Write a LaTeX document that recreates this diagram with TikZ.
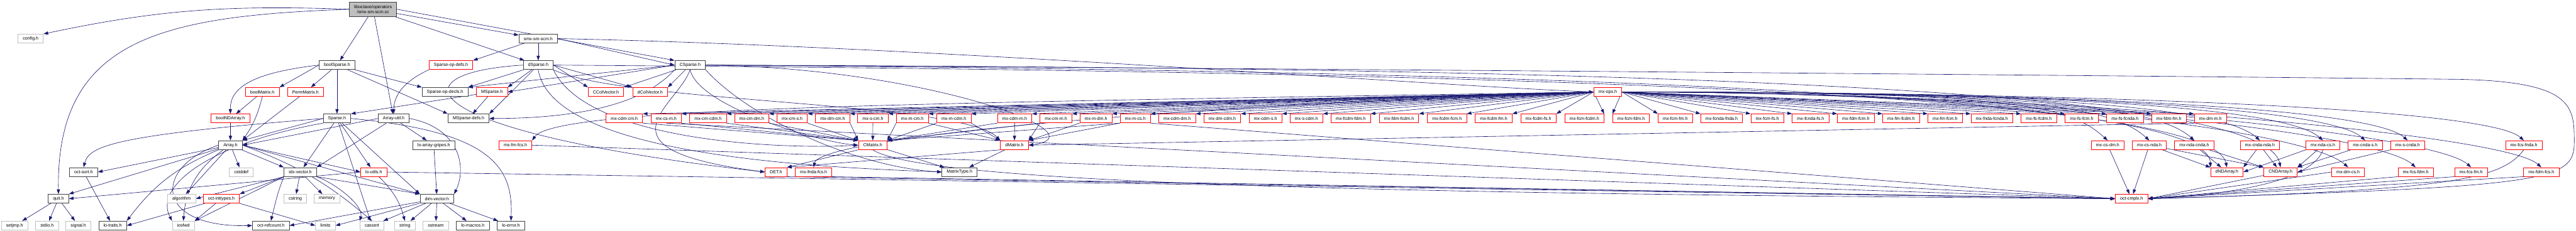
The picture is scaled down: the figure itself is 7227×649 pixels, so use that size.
\documentclass[tikz,border=0pt]{standalone}
\usepackage{fontspec}
\setmainfont{Liberation Sans}
\usetikzlibrary{arrows.meta,backgrounds}
\definecolor{edgeblue}{HTML}{191970}
\definecolor{sysgray}{HTML}{BFBFBF}
\definecolor{truncred}{HTML}{FF0000}

\tikzset{
  hfile/.style={draw=black!75, line width=1.3pt, fill=white, minimum height=25pt,
    inner xsep=13.5pt, inner ysep=0pt, font=\fontsize{12.5}{15}\selectfont},
  sysfile/.style={hfile, draw=sysgray},
  truncfile/.style={hfile, draw=truncred},
  rootfile/.style={hfile, fill=sysgray, align=center, minimum height=40pt},
  dep/.style={draw=edgeblue, line width=1.1pt, -{Triangle[length=13pt,width=9pt]}}
}

\begin{document}
\begin{tikzpicture}[x=1pt,y=-1pt]
  \useasboundingbox (0,0) rectangle (7227,649);

  % rows 0-3
  \node[rootfile] (top) at (1046.5,26) {liboctave/operators\\/smx-sm-scm.cc};
  \node[sysfile] (config) at (86,108.5) {config.h};
  \node[hfile] (smxh) at (1510,108.5) {smx-sm-scm.h};
  \node[hfile] (boolSparse) at (945.5,183) {boolSparse.h};
  \node[truncfile] (opDefs) at (1265,183) {Sparse-op-defs.h};
  \node[hfile] (dSparse) at (1510,183) {dSparse.h};
  \node[hfile] (CSparse) at (1936,183) {CSparse.h};
  \node[truncfile] (boolMatrix) at (736,258.5) {boolMatrix.h};
  \node[truncfile] (PermMatrix) at (857,258.5) {PermMatrix.h};
  \node[hfile] (opDecls) at (1248.5,258.5) {Sparse-op-decls.h};
  \node[truncfile] (MSparse) at (1380,258.5) {MSparse.h};
  \node[truncfile] (CColVector) at (1700,258.5) {CColVector.h};
  \node[truncfile] (dColVector) at (1824,258.5) {dColVector.h};
  \node[truncfile] (mxops) at (4510.5,258.5) {mx-ops.h};

  % row 4
  \node[truncfile] (boolNDArray) at (646.5,333) {boolNDArray.h};
  \node[hfile] (Sparse) at (945.5,333) {Sparse.h};
  \node[hfile] (ArrayUtil) at (1104.5,333) {Array-util.h};
  \node[hfile] (MSparseDefs) at (1314.5,333) {MSparse-defs.h};
  \foreach \n/\x in {cdm-cm/1751.5, cs-m/1869, cm-cdm/1986.5, cm-dm/2109, cm-s/2222.5,
      dm-cm/2336, s-cm/2449, m-cm/2559.5, m-cdm/2676, cdm-m/2846.5, cm-m/2962.5,
      m-dm/3074.5, m-cs/3185, cdm-dm/3302.5, dm-cdm/3429, cdm-s/3550, s-cdm/3665,
      fcdm-fdm/3789.5, fdm-fcdm/3925, fcdm-fcm/4059.5, fcdm-fm/4190.5, fcdm-fs/4316,
      fcm-fcdm/4445, fcm-fdm/4576, fcm-fm/4700, fcnda-fnda/4830, fcm-fs/4958,
      fcnda-fs/5079.5, fdm-fcm/5206.5, fm-fcdm/5333.5, fm-fcm/5457, fnda-fcnda/5588,
      fs-fcdm/5720, fs-fcm/5840, fs-fcnda/5961.5, fdm-fm/6085, dm-m/6201}
    \node[truncfile] (mx-\n) at (\x,333) {mx-\n.h};

  % row 5
  \node[hfile] (Array) at (646.5,408) {Array.h};
  \node[hfile] (gripes) at (1217,408) {lo-array-gripes.h};
  \node[truncfile] (mxfmfcs) at (1446,408) {mx-fm-fcs.h};
  \node[truncfile] (CMatrix) at (2448.5,408) {CMatrix.h};
  \node[truncfile] (dMatrix) at (2846,408) {dMatrix.h};
  \foreach \n/\x in {cs-dm/5913, cs-nda/6030, nda-cnda/6156, cnda-nda/6340,
      nda-cs/6517, cnda-s/6635.5, s-cnda/6754.5, fcs-fnda/7080.5}
    \node[truncfile] (mx-\n) at (\x,408) {mx-\n.h};

  % row 6
  \node[hfile] (octsort) at (234.5,483.5) {oct-sort.h};
  \node[sysfile] (cstddef) at (677,483.5) {cstddef};
  \node[hfile] (idxvector) at (842.5,483.5) {idx-vector.h};
  \node[truncfile] (loutils) at (1048.5,483.5) {lo-utils.h};
  \node[truncfile] (DET) at (2177,483.5) {DET.h};
  \node[truncfile] (mxfndafcs) at (2282.5,483.5) {mx-fnda-fcs.h};
  \node[hfile] (MatrixType) at (2692,483.5) {MatrixType.h};
  \node[truncfile] (dNDArray) at (6247.5,483.5) {dNDArray.h};
  \node[truncfile] (CNDArray) at (6398,483.5) {CNDArray.h};
  \foreach \n/\x in {dm-cs/6587.5, fcs-fdm/6777, fcs-fm/6932.5, fdm-fcs/7129.5}
    \node[truncfile] (mx-\n) at (\x,483.5) {mx-\n.h};

  % row 7
  \node[hfile] (quit) at (164,558.5) {quit.h};
  \node[sysfile] (algorithm) at (509.5,558.5) {algorithm};
  \node[truncfile] (octinttypes) at (621,558.5) {oct-inttypes.h};
  \node[sysfile] (cstring) at (828.5,558.5) {cstring};
  \node[sysfile] (memory) at (917.5,558.5) {memory};
  \node[hfile] (dimvector) at (1226,558.5) {dim-vector.h};
  \node[truncfile] (octcmplx) at (5980,558.5) {oct-cmplx.h};

  % row 8
  \node[sysfile] (setjmp) at (41,634) {setjmp.h};
  \node[sysfile] (stdio) at (132,634) {stdio.h};
  \node[sysfile] (signal) at (220,634) {signal.h};
  \node[hfile] (lotraits) at (316,634) {lo-traits.h};
  \node[sysfile] (iosfwd) at (514.5,634) {iosfwd};
  \node[hfile] (octrefcount) at (760,634) {oct-refcount.h};
  \node[sysfile] (limits) at (913,634) {limits};
  \node[sysfile] (cassert) at (1043.5,634) {cassert};
  \node[sysfile] (string) at (1136,634) {string};
  \node[sysfile] (sstream) at (1222.5,634) {sstream};
  \node[hfile] (lomacros) at (1326.5,634) {lo-macros.h};
  \node[hfile] (loerror) at (1433.5,634) {lo-error.h};

  \begin{scope}[on background layer]
  % root file
  \draw[dep] (top.west) to[out=178,in=12] (config.north east);
  \draw[dep] (top.west) .. controls (450,45) and (158,110) .. (quit.north);
  \draw[dep] (top) -- (boolSparse);
  \draw[dep] (top) -- (ArrayUtil);
  \draw[dep] (top) -- (dSparse);
  \draw[dep] (top) -- (smxh);
  \draw[dep] (top.east) -- (CSparse.north west);

  % smx-sm-scm.h
  \draw[dep] (smxh) -- (opDefs.north east);
  \draw[dep] (smxh) -- (dSparse);
  \draw[dep] (smxh.east) -- (CSparse.west);
  \draw[dep] (smxh.east) .. controls (2600,130) and (4000,240) .. (mxops.west);

  % sparse headers
  \draw[dep] (boolSparse) -- (Sparse);
  \draw[dep] (boolSparse) -- (PermMatrix);
  \draw[dep] (boolSparse) -- (opDecls.north west);
  \draw[dep] (boolSparse) -- (MSparseDefs.north west);
  \draw[dep] (boolSparse.west) -- (boolMatrix.north east);
  \draw[dep] (boolSparse.west) .. controls (700,205) and (645,250) .. (boolNDArray.north);
  \draw[dep] (opDefs.south west) .. controls (1130,230) and (1105,270) .. (ArrayUtil.north);
  \draw[dep] (dSparse) -- (opDecls.north east);
  \draw[dep] (dSparse) -- (MSparse.north east);
  \draw[dep] (dSparse) -- (MSparseDefs.north east);
  \draw[dep] (dSparse.east) -- (CColVector.north west);
  \draw[dep] (dSparse.east) -- (dColVector.north west);
  \draw[dep] (dSparse.west) .. controls (1100,205) and (1150,370) .. (DET.west);
  \draw[dep] (dSparse.south east) .. controls (1750,290) and (2700,285) .. (dMatrix.north west);
  \draw[dep] (dSparse.south east) .. controls (1650,400) and (2200,420) .. (CMatrix.west);
  \draw[dep] (dSparse.south) .. controls (1550,440) and (2300,470) .. (MatrixType.west);
  \draw[dep] (dSparse.east) .. controls (4000,200) and (6200,250) .. (dNDArray.north);
  \draw[dep] (CSparse.west) -- (opDecls.north east);
  \draw[dep] (CSparse.west) -- (MSparse.east);
  \draw[dep] (CSparse.south west) .. controls (1800,300) and (1600,333) .. (MSparseDefs.east);
  \draw[dep] (CSparse) -- (CColVector.north east);
  \draw[dep] (CSparse) -- (dColVector.north east);
  \draw[dep] (CSparse.south) .. controls (1900,300) and (1650,420) .. (DET.west);
  \draw[dep] (CSparse.south) .. controls (1960,300) and (2300,400) .. (CMatrix.west);
  \draw[dep] (CSparse.east) .. controls (2600,190) and (3100,380) .. (dMatrix.east);
  \draw[dep] (CSparse.south east) .. controls (2100,330) and (2400,470) .. (MatrixType.west);
  \draw[dep] (CSparse.east) .. controls (4300,200) and (6200,260) .. (dNDArray.north west);
  \draw[dep] (CSparse.east) .. controls (4500,190) and (6350,240) .. (CNDArray.north);
  \draw[dep] (CSparse.east) .. controls (4000,195) and (6200,215) .. (6900,223)
    .. controls (7222,230) and (7222,300) .. (7222,400)
    .. controls (7222,510) and (7150,525) .. (octcmplx.east);
  \draw[dep] (MSparse) -- (Sparse.north east);
  \draw[dep] (MSparse) -- (MSparseDefs);
  \draw[dep] (PermMatrix) -- (Array.north east);
  \draw[dep] (boolMatrix) -- (boolNDArray);
  \draw[dep] (boolMatrix.south) to[bend left=10] (Array.north east);
  \draw[dep] (boolNDArray) -- (Array);

  % Array-util.h and Sparse.h
  \draw[dep] (ArrayUtil.west) -- (Array.east);
  \draw[dep] (ArrayUtil) -- (idxvector.north east);
  \draw[dep] (ArrayUtil) -- (gripes);
  \draw[dep] (ArrayUtil.east) .. controls (1290,360) and (1310,470) .. (dimvector.north east);
  \draw[dep] (Sparse.west) -- (Array.north east);
  \draw[dep] (Sparse.west) .. controls (320,380) and (250,410) .. (octsort.north);
  \draw[dep] (Sparse.south west) .. controls (600,400) and (430,520) .. (iosfwd.north west);
  \draw[dep] (Sparse) -- (idxvector);
  \draw[dep] (Sparse) -- (loutils);
  \draw[dep] (Sparse) -- (cassert);
  \draw[dep] (Sparse) -- (dimvector.north west);
  \draw[dep] (Sparse.east) .. controls (1380,370) and (1440,470) .. (loerror.north);
  \draw[dep] (gripes) -- (dimvector);

  % Array.h
  \draw[dep] (Array) -- (octsort.east);
  \draw[dep] (Array) -- (quit.north east);
  \draw[dep] (Array) to[bend right=15] (lotraits.north east);
  \draw[dep] (Array) to[bend right=25] (iosfwd.north);
  \draw[dep] (Array.west) .. controls (430,470) and (430,640) .. (octrefcount.west);
  \draw[dep] (Array) -- (algorithm);
  \draw[dep] (Array) -- (cstddef);
  \draw[dep] (Array) -- (idxvector.north west);
  \draw[dep] (Array.east) -- (dimvector.north west);
  \draw[dep] (Array.east) -- (loutils.west);
  \draw[dep] (Array.east) to[bend left=10] (cassert.north);

  % low level headers
  \draw[dep] (octsort) -- (lotraits);
  \draw[dep] (quit) -- (setjmp);
  \draw[dep] (quit) -- (stdio);
  \draw[dep] (quit) -- (signal);
  \draw[dep] (idxvector) -- (cstring);
  \draw[dep] (idxvector) -- (memory);
  \draw[dep] (idxvector.south west) -- (algorithm.east);
  \draw[dep] (idxvector.south west) -- (octinttypes.north east);
  \draw[dep] (idxvector.south west) -- (iosfwd.north east);
  \draw[dep] (idxvector.south west) .. controls (780,540) .. (octrefcount.north);
  \draw[dep] (idxvector.south east) -- (dimvector.north west);
  \draw[dep] (idxvector.south east) .. controls (950,520) and (1020,580) .. (cassert.north west);
  \draw[dep] (octinttypes) -- (lotraits.east);
  \draw[dep] (octinttypes) -- (iosfwd.north east);
  \draw[dep] (octinttypes.south east) -- (limits.west);
  \draw[dep] (dimvector) -- (octrefcount.east);
  \draw[dep] (dimvector) -- (limits.east);
  \draw[dep] (dimvector) -- (cassert);
  \draw[dep] (dimvector) -- (string);
  \draw[dep] (dimvector) -- (sstream);
  \draw[dep] (dimvector) -- (lomacros);
  \draw[dep] (dimvector) -- (loerror);
  \draw[dep] (loutils.west) -- (quit.east);
  \draw[dep] (loutils) to[bend left=15] (string.north);
  \draw[dep] (loutils.east) -- (octcmplx.west);

  % matrix headers
  \draw[dep] (mxfmfcs.east) -- (octcmplx.west);
  \draw[dep] (CMatrix) -- (MatrixType);
  \draw[dep] (CMatrix.south west) -- (DET.north east);
  \draw[dep] (CMatrix.south) .. controls (2600,520) and (4000,545) .. (octcmplx.west);
  \draw[dep] (dMatrix) -- (MatrixType);
  \draw[dep] (dMatrix.south west) -- (DET.north east);
  \draw[dep] (DET.south east) -- (octcmplx.west);
  \draw[dep] (mxfndafcs.south east) -- (octcmplx.west);
  \draw[dep] (CNDArray) -- (octcmplx.east);

  % mx-ops.h
  \foreach \n in {cdm-cm, cs-m, cm-cdm, cm-dm, cm-s, dm-cm, s-cm, m-cm, m-cdm, cdm-m,
      cm-m, m-dm, m-cs, cdm-dm, dm-cdm, cdm-s, s-cdm, fcdm-fdm, fdm-fcdm, fcdm-fcm,
      fcdm-fm, fcdm-fs, fcm-fcdm}
    \draw[dep] (mxops.west) -- (mx-\n.north east);
  \foreach \n in {fcm-fdm, fcm-fm, fcnda-fnda, fcm-fs, fcnda-fs, fdm-fcm, fm-fcdm,
      fm-fcm, fnda-fcnda, fs-fcdm, fs-fcm, fs-fcnda, fdm-fm, dm-m}
    \draw[dep] (mxops.east) -- (mx-\n.north west);
  \foreach \n in {cs-dm, cs-nda, nda-cnda, cnda-nda, nda-cs, cnda-s, s-cnda, fcs-fnda,
      dm-cs, fcs-fdm, fcs-fm, fdm-fcs}
    \draw[dep] (mxops.east) .. controls +(1100,0) and +(-110,-100) .. (mx-\n.north);
  \draw[dep] (mxops.west) .. controls (2600,290) and (1560,300) .. (mxfmfcs.north east);
  \draw[dep] (mxops.west) .. controls (3200,300) and (2300,390) .. (mxfndafcs.north);

  % mx headers
  \foreach \n in {cdm-cm, cs-m, cm-cdm, cm-dm, cm-s, dm-cm}
    \draw[dep] (mx-\n.south east) -- (CMatrix.north west);
  \draw[dep] (mx-s-cm) -- (CMatrix);
  \foreach \n in {m-cm, m-cdm, cdm-m, cm-m, m-cs}
    \draw[dep] (mx-\n.south west) -- (CMatrix.north east);
  \foreach \n in {m-cm, m-cdm}
    \draw[dep] (mx-\n.south east) -- (dMatrix.north west);
  \draw[dep] (mx-cdm-m) -- (dMatrix);
  \foreach \n in {cm-m, m-dm, m-cs}
    \draw[dep] (mx-\n.south west) -- (dMatrix.north east);
  \draw[dep] (mx-dm-m.south west) -- (dMatrix.east);
  \draw[dep] (mx-cs-m.south) -- (octcmplx.west);
  \draw[dep] (mx-m-cs.south east) -- (octcmplx.west);
  \draw[dep] (mx-cs-dm) -- (octcmplx);
  \draw[dep] (mx-cs-nda) -- (octcmplx);
  \draw[dep] (mx-cs-nda) -- (dNDArray.north west);
  \draw[dep] (mx-cs-nda) -- (CNDArray.north west);
  \draw[dep] (mx-nda-cnda) -- (dNDArray);
  \draw[dep] (mx-nda-cnda) -- (CNDArray.north west);
  \draw[dep] (mx-cnda-nda) -- (dNDArray.north east);
  \draw[dep] (mx-cnda-nda) -- (CNDArray);
  \draw[dep] (mx-nda-cs) -- (CNDArray.north east);
  \draw[dep] (mx-nda-cs.south west) -- (dNDArray.east);
  \draw[dep] (mx-nda-cs.south) .. controls (6490,500) and (6300,545) .. (octcmplx.east);
  \draw[dep] (mx-cnda-s) -- (CNDArray.north east);
  \draw[dep] (mx-s-cnda.south west) -- (CNDArray.east);
  \draw[dep] (mx-dm-cs.west) -- (octcmplx.east);
  \draw[dep] (mx-fcs-fdm.south west) -- (octcmplx.east);
  \draw[dep] (mx-fcs-fm.south west) -- (octcmplx.east);
  \draw[dep] (mx-fdm-fcs.south west) -- (octcmplx.east);
  \draw[dep] (mx-fcs-fnda.south) .. controls (7020,500) and (6900,535) .. (octcmplx.east);
  \end{scope}
\end{tikzpicture}
\end{document}
